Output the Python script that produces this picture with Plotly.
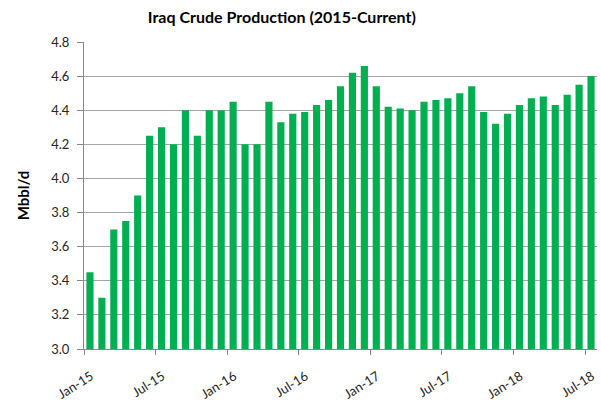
import plotly.graph_objects as go

# monthly Iraq crude production, Mbbl/d (Jan-15 .. Jul-18)
months = [f"{m}-{y}" for y in range(15, 19)
          for m in ["Jan", "Feb", "Mar", "Apr", "May", "Jun",
                    "Jul", "Aug", "Sep", "Oct", "Nov", "Dec"]][:43]
production = [
    3.45, 3.30, 3.70, 3.75, 3.90, 4.25, 4.30, 4.20, 4.40, 4.25, 4.40, 4.40,
    4.45, 4.20, 4.20, 4.45, 4.33, 4.38, 4.39, 4.43, 4.46, 4.54, 4.62, 4.66,
    4.54, 4.42, 4.41, 4.40, 4.45, 4.46, 4.47, 4.50, 4.54, 4.39, 4.32, 4.38,
    4.43, 4.47, 4.48, 4.43, 4.49, 4.55, 4.60,
]
tick_labels = ["Jan-15", "Jul-15", "Jan-16", "Jul-16", "Jan-17", "Jul-17", "Jan-18", "Jul-18"]

idx = list(range(len(months)))
# ticks sit at the left edge of each labelled month (Excel date-axis style)
tick_pos = [months.index(t) - 0.5 for t in tick_labels]

fig = go.Figure(go.Bar(
    x=idx,
    y=production,
    customdata=months,
    hovertemplate="%{customdata}: %{y:.2f}<extra></extra>",
    width=0.6,
    marker=dict(color="#00B050", line=dict(width=0)),
))

fig.update_layout(
    width=601,
    height=401,
    margin=dict(l=84, r=4, t=42, b=52),
    paper_bgcolor="white",
    plot_bgcolor="white",
    font=dict(family="Lato", size=12, color="#262626"),
    title=dict(
        text="<b>Iraq Crude Production (2015-Current)</b>",
        x=0.469, xref="container", xanchor="center",
        y=1 - 17 / 401, yref="container", yanchor="middle",
        font=dict(size=16, color="#000000"),
    ),
    showlegend=False,
)

fig.update_xaxes(
    range=[-0.5, len(months) - 0.5],
    tickvals=tick_pos,
    ticktext=tick_labels,
    tickangle=-32,
    ticks="outside",
    ticklen=5,
    tickcolor="#888888",
    ticklabelstandoff=9,
    ticklabelshift=7,
    showline=True,
    linecolor="#888888",
    showgrid=False,
    zeroline=False,
    automargin=False,
    tickfont=dict(size=13),
)

fig.update_yaxes(
    range=[3.0, 4.8],
    dtick=0.2,
    tickformat=".1f",
    ticks="outside",
    ticklen=6,
    tickcolor="#888888",
    ticklabelstandoff=5,
    showline=True,
    linecolor="#888888",
    showgrid=True,
    gridcolor="#A6A6A6",
    gridwidth=1,
    zeroline=False,
    automargin=False,
    title=dict(text="<b>Mbbl/d</b>", font=dict(size=15, color="#000000"), standoff=17),
    tickfont=dict(size=13),
)

# drop the browser's default body margin so the 601x401 figure fits the window
fig.write_html("out.html", config={"displayModeBar": False},
               post_script="document.body.style.margin='0';")
